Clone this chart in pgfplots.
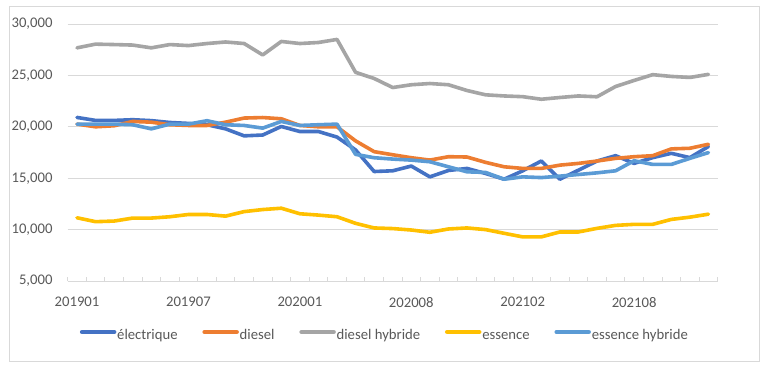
\documentclass[border=0pt]{standalone}
\usepackage{pgfplots}
\pgfplotsset{compat=1.18}
\usepackage{pgfplotstable}
\usepackage{fontspec}
\setmainfont{Carlito}
\definecolor{celec}{HTML}{4472C4}
\definecolor{cdiesel}{HTML}{ED7D31}
\definecolor{cdhyb}{HTML}{A5A5A5}
\definecolor{cess}{HTML}{FFC000}
\definecolor{cehyb}{HTML}{5B9BD5}
\definecolor{ctext}{HTML}{595959}
\definecolor{cgrid}{HTML}{D9D9D9}
\pgfplotstableread{
x elec diesel dhyb ess ehyb
0 20910 20260 27680 11150 20260
1 20620 20000 28040 10770 20260
2 20620 20100 28000 10830 20260
3 20690 20520 27950 11120 20200
4 20600 20450 27680 11120 19800
5 20420 20200 28000 11250 20260
6 20330 20130 27900 11470 20260
7 20200 20130 28100 11470 20590
8 19800 20450 28250 11310 20200
9 19120 20850 28100 11750 20130
10 19200 20900 26990 11950 19870
11 20030 20780 28300 12080 20520
12 19540 20130 28100 11540 20130
13 19540 20000 28200 11410 20200
14 19000 20000 28500 11250 20260
15 17750 18630 25300 10610 17320
16 15650 17580 24700 10160 16990
17 15720 17280 23820 10100 16860
18 16180 16990 24090 9960 16760
19 15130 16760 24210 9740 16600
20 15750 17090 24090 10060 16110
21 15950 17060 23530 10160 15620
22 15460 16540 23110 10000 15560
23 14900 16110 23000 9640 14900
24 15720 15950 22930 9290 15130
25 16670 15950 22680 9290 15060
26 14900 16270 22850 9770 15200
27 15780 16440 23000 9770 15360
28 16670 16670 22920 10120 15520
29 17190 16930 23920 10410 15720
30 16440 17090 24510 10510 16700
31 17000 17190 25070 10510 16340
32 17420 17850 24900 10990 16340
33 17000 17910 24800 11210 16930
34 18080 18300 25100 11500 17490
}\data
\begin{document}
\begin{tikzpicture}[x=1pt,y=1pt]
\path[fill=white] (-77,-90) rectangle (696,281);
\draw[cgrid, line width=0.8pt] (-68,-80) rectangle (682,275);
\begin{axis}[
  at={(0pt,0pt)}, anchor=origin,
  scale only axis, width=650pt, height=257pt,
  xmin=-0.5, xmax=34.5, ymin=5000, ymax=30000,
  axis line style={draw=none},
  axis x line*=bottom, axis y line*=left,
  ytick={5000,10000,...,30000},
  ymajorgrids, grid style={cgrid, line width=0.8pt},
  major y tick style={draw=none},
  xtick={0,6,12,18,24,30},
  xticklabels={201901,201907,202001,202008,202102,202108},
  major x tick style={draw=none},
  minor xtick={-0.5,0.5,...,34.5},
  minor tick length=4pt, tick align=inside,
  minor x tick style={cgrid, line width=0.8pt},
  ticklabel style={font=\fontsize{14.7}{17}\selectfont, text=ctext},
  yticklabel style={anchor=east, inner sep=0pt, xshift=-15pt},
  xticklabel style={anchor=north, inner sep=0pt, yshift=-16pt},
  /pgf/number format/assume math mode=true,
  /pgf/number format/1000 sep={,},
  scaled y ticks=false,
  every axis plot/.append style={line width=3.6pt, line join=round, line cap=round},
  legend columns=5,
  legend style={at={(0.487,-0.214)}, anchor=center, draw=none, fill=none,
    font=\fontsize{14.7}{17}\selectfont, text=ctext,
    nodes={inner xsep=0.8pt, text height=10pt, text depth=3pt},
    /tikz/every even column/.append style={column sep=24pt},
    inner sep=0pt, row sep=0pt},
  legend image code/.code={\draw[#1, line width=4.5pt, line cap=round] (2pt,4pt) -- (34pt,4pt);},
  legend cell align=left,
]
\draw[cgrid, line width=0.8pt] (axis cs:-0.5,5000) -- (axis cs:34.5,5000);
\addplot[celec] table[x=x,y=elec]{\data};
\addlegendentry{électrique}
\addplot[cdiesel] table[x=x,y=diesel]{\data};
\addlegendentry{diesel}
\addplot[cdhyb] table[x=x,y=dhyb]{\data};
\addlegendentry{diesel hybride}
\addplot[cess] table[x=x,y=ess]{\data};
\addlegendentry{essence}
\addplot[cehyb] table[x=x,y=ehyb]{\data};
\addlegendentry{essence hybride}
\end{axis}
\end{tikzpicture}
\end{document}
